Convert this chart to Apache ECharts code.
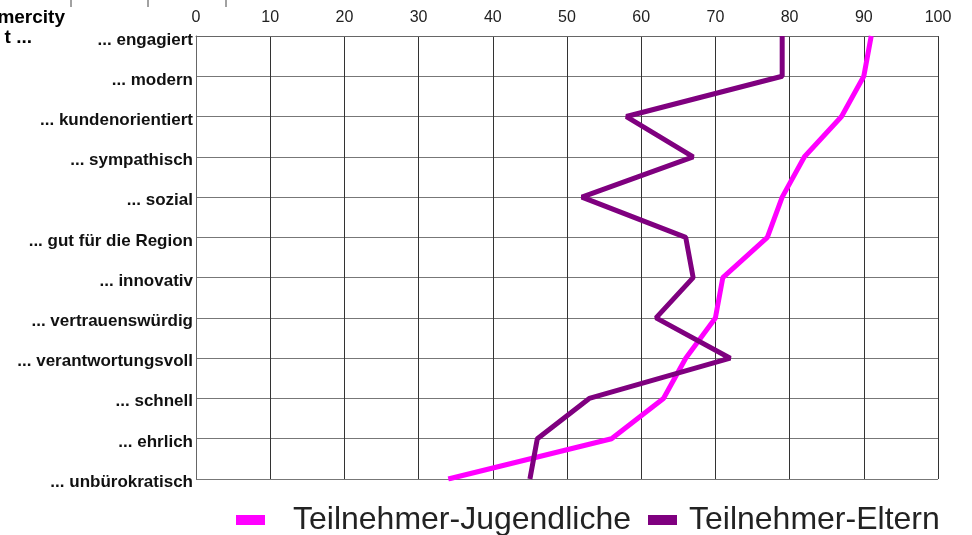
<!DOCTYPE html>
<html><head><meta charset="utf-8">
<script src="https://cdn.jsdelivr.net/npm/echarts@6/dist/echarts.min.js"></script>
<style>html,body{margin:0;padding:0;background:#fff}#c{width:972px;height:535px}</style>
</head><body><div id="c"></div>
<script>
const categories = ['... engagiert','... modern','... kundenorientiert','... sympathisch','... sozial','... gut für die Region','... innovativ','... vertrauenswürdig','... verantwortungsvoll','... schnell','... ehrlich','... unbürokratisch'];
const jugendliche = [91, 90, 87, 82, 79, 77, 71, 70, 66, 63, 56, 34];
const eltern = [79, 79, 58, 67, 52, 66, 67, 62, 72, 53, 46, 45];
const xTicks = {min: 0, max: 100, interval: 10};
const seriesNames = ['Teilnehmer-Jugendliche', 'Teilnehmer-Eltern'];

const FONT = '"Liberation Sans", Arial, sans-serif';
const chart = echarts.init(document.getElementById('c'), null, {renderer: 'canvas'});
chart.setOption({
  animation: false,
  backgroundColor: '#fff',
  grid: [
    {left: 196, right: 34, top: 36, bottom: 56, containLabel: false},
    {left: 196, right: 34, top: 40, bottom: 53, containLabel: false}
  ],
  xAxis: [{
    type: 'value', gridIndex: 0, position: 'top', min: xTicks.min, max: xTicks.max, interval: xTicks.interval,
    axisLine: {show: true, lineStyle: {color: '#666', width: 1}},
    axisTick: {show: false},
    axisLabel: {color: '#222', fontSize: 16, fontFamily: FONT, margin: 10},
    splitLine: {show: true, lineStyle: {color: '#333', width: 1}}
  }, {
    type: 'value', gridIndex: 1, min: xTicks.min, max: xTicks.max, show: false
  }],
  yAxis: [{
    type: 'category', gridIndex: 0, data: categories, inverse: true, boundaryGap: false,
    axisLine: {show: true, lineStyle: {color: '#666', width: 1}},
    axisTick: {show: false},
    axisLabel: {show: false},
    splitLine: {show: true, lineStyle: {color: '#777', width: 1}}
  }, {
    type: 'category', gridIndex: 1, data: categories, inverse: true, boundaryGap: false,
    axisLine: {show: false}, axisTick: {show: false}, splitLine: {show: false},
    axisLabel: {color: '#111', fontSize: 17, fontWeight: 'bold', fontFamily: FONT, margin: 3}
  }],
  legend: [
    {data: [seriesNames[0]], left: 231, top: 499, itemWidth: 29, itemHeight: 10, icon: 'rect',
     textStyle: {fontSize: 32, color: '#222', fontFamily: FONT, padding: [0,0,0,23]}},
    {data: [seriesNames[1]], left: 643, top: 499, itemWidth: 29, itemHeight: 10, icon: 'rect',
     textStyle: {fontSize: 32, color: '#222', fontFamily: FONT, padding: [0,0,0,7]}}
  ],
  graphic: [
    {type: 'text', x: 65, y: 18, style: {text: 'mercity', font: 'bold 19px ' + FONT, fill: '#000', align: 'right', verticalAlign: 'middle'}},
    {type: 'text', x: 32, y: 38, style: {text: 't ...', font: 'bold 19px ' + FONT, fill: '#000', align: 'right', verticalAlign: 'middle'}},
    {type: 'line', shape: {x1: 71, y1: 0, x2: 71, y2: 7}, style: {stroke: '#444', lineWidth: 1}},
    {type: 'line', shape: {x1: 148, y1: 0, x2: 148, y2: 7}, style: {stroke: '#444', lineWidth: 1}},
    {type: 'line', shape: {x1: 226, y1: 0, x2: 226, y2: 7}, style: {stroke: '#444', lineWidth: 1}}
  ],
  series: [
    {name: seriesNames[0], type: 'line', xAxisIndex: 0, yAxisIndex: 0, data: jugendliche, symbol: 'none',
     lineStyle: {color: '#ff00ff', width: 5}, itemStyle: {color: '#ff00ff'}},
    {name: seriesNames[1], type: 'line', xAxisIndex: 0, yAxisIndex: 0, data: eltern, symbol: 'none',
     lineStyle: {color: '#7f007f', width: 5}, itemStyle: {color: '#7f007f'}}
  ]
});
</script></body></html>
